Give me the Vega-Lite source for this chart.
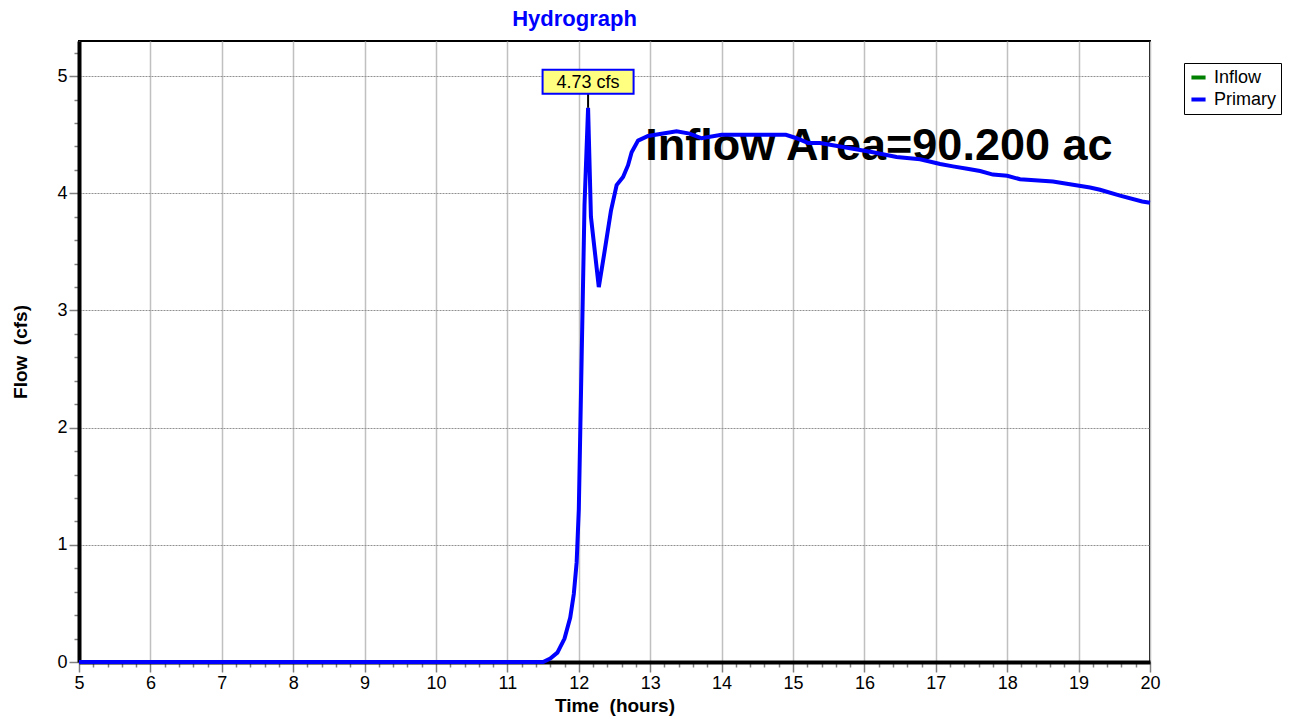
{
  "$schema": "https://vega.github.io/schema/vega-lite/v6.json",
  "width": 1071,
  "height": 621,
  "autosize": "none",
  "padding": {"left": 79, "top": 41, "right": 144, "bottom": 57},
  "background": "white",
  "config": {
    "view": {"stroke": "black", "strokeWidth": 2},
    "font": "Liberation Sans",
    "axis": {"labelFont": "Liberation Sans", "titleFont": "Liberation Sans"},
    "legend": {"labelFont": "Liberation Sans"}
  },
  "title": {
    "text": "Hydrograph",
    "color": "#0000ff",
    "fontSize": 22,
    "fontWeight": "bold",
    "font": "Liberation Sans",
    "anchor": "middle",
    "dx": -40,
    "offset": 10
  },
  "datasets": {
    "flow": [
      {"t": 5, "Q": 0, "series": "Primary"},
      {"t": 11.5, "Q": 0, "series": "Primary"},
      {"t": 11.6, "Q": 0.03, "series": "Primary"},
      {"t": 11.7, "Q": 0.08, "series": "Primary"},
      {"t": 11.8, "Q": 0.2, "series": "Primary"},
      {"t": 11.88, "Q": 0.38, "series": "Primary"},
      {"t": 11.93, "Q": 0.58, "series": "Primary"},
      {"t": 11.97, "Q": 0.85, "series": "Primary"},
      {"t": 12.0, "Q": 1.3, "series": "Primary"},
      {"t": 12.04, "Q": 2.6, "series": "Primary"},
      {"t": 12.08, "Q": 3.9, "series": "Primary"},
      {"t": 12.13, "Q": 4.73, "series": "Primary"},
      {"t": 12.17, "Q": 3.8, "series": "Primary"},
      {"t": 12.28, "Q": 3.2, "series": "Primary"},
      {"t": 12.36, "Q": 3.5, "series": "Primary"},
      {"t": 12.45, "Q": 3.85, "series": "Primary"},
      {"t": 12.53, "Q": 4.07, "series": "Primary"},
      {"t": 12.62, "Q": 4.14, "series": "Primary"},
      {"t": 12.69, "Q": 4.24, "series": "Primary"},
      {"t": 12.74, "Q": 4.35, "series": "Primary"},
      {"t": 12.83, "Q": 4.45, "series": "Primary"},
      {"t": 12.97, "Q": 4.49, "series": "Primary"},
      {"t": 13.18, "Q": 4.51, "series": "Primary"},
      {"t": 13.37, "Q": 4.53, "series": "Primary"},
      {"t": 13.55, "Q": 4.51, "series": "Primary"},
      {"t": 13.72, "Q": 4.47, "series": "Primary"},
      {"t": 14.0, "Q": 4.5, "series": "Primary"},
      {"t": 14.9, "Q": 4.5, "series": "Primary"},
      {"t": 15.05, "Q": 4.47, "series": "Primary"},
      {"t": 15.21, "Q": 4.43, "series": "Primary"},
      {"t": 15.38, "Q": 4.43, "series": "Primary"},
      {"t": 15.66, "Q": 4.4, "series": "Primary"},
      {"t": 16.12, "Q": 4.35, "series": "Primary"},
      {"t": 16.45, "Q": 4.31, "series": "Primary"},
      {"t": 16.78, "Q": 4.29, "series": "Primary"},
      {"t": 17.06, "Q": 4.25, "series": "Primary"},
      {"t": 17.24, "Q": 4.23, "series": "Primary"},
      {"t": 17.44, "Q": 4.21, "series": "Primary"},
      {"t": 17.62, "Q": 4.19, "series": "Primary"},
      {"t": 17.8, "Q": 4.16, "series": "Primary"},
      {"t": 18.0, "Q": 4.15, "series": "Primary"},
      {"t": 18.18, "Q": 4.12, "series": "Primary"},
      {"t": 18.64, "Q": 4.1, "series": "Primary"},
      {"t": 19.16, "Q": 4.05, "series": "Primary"},
      {"t": 19.3, "Q": 4.03, "series": "Primary"},
      {"t": 19.58, "Q": 3.98, "series": "Primary"},
      {"t": 19.89, "Q": 3.93, "series": "Primary"},
      {"t": 20, "Q": 3.92, "series": "Primary"}
    ],
    "peak": [{"t": 12.13, "Q": 4.73, "label": "4.73 cfs"}],
    "note": [{"t": 12.93, "Q": 4.283, "text": "Inflow Area=90.200 ac"}]
  },
  "encoding": {
    "x": {
      "field": "t",
      "type": "quantitative",
      "scale": {"domain": [5, 20], "nice": false, "zero": false},
      "axis": {
        "title": "Time \u00a0(hours)",
        "titleFontSize": 19,
        "titleFontWeight": "bold",
        "titleColor": "black",
        "titlePadding": 4,
        "tickCount": 1000,
        "values": [5,5.2,5.4,5.6,5.8,6,6.2,6.4,6.6,6.8,7,7.2,7.4,7.6,7.8,8,8.2,8.4,8.6,8.8,9,9.2,9.4,9.6,9.8,10,10.2,10.4,10.6,10.8,11,11.2,11.4,11.6,11.8,12,12.2,12.4,12.6,12.8,13,13.2,13.4,13.6,13.8,14,14.2,14.4,14.6,14.8,15,15.2,15.4,15.6,15.8,16,16.2,16.4,16.6,16.8,17,17.2,17.4,17.6,17.8,18,18.2,18.4,18.6,18.8,19,19.2,19.4,19.6,19.8,20],
        "labelExpr": "datum.value % 1 === 0 ? format(datum.value, 'd') : ''",
        "labelOverlap": false,
        "labelBound": false,
        "labelFlush": false,
        "labelFontSize": 18,
        "labelColor": "black",
        "labelPadding": 2,
        "tickColor": "#808080",
        "tickWidth": 1.5,
        "tickSize": {"condition": {"test": "datum.value % 1 === 0", "value": 10}, "value": 5},
        "domainColor": "black",
        "domainWidth": 4,
        "grid": true,
        "gridColor": "#c0c0c0",
        "gridWidth": 1.5,
        "gridOpacity": {"condition": {"test": "datum.value % 1 === 0", "value": 1}, "value": 0}
      }
    },
    "y": {
      "field": "Q",
      "type": "quantitative",
      "scale": {"domain": [0, 5.3], "nice": false},
      "axis": {
        "title": "Flow \u00a0(cfs)",
        "titleFontSize": 19,
        "titleFontWeight": "bold",
        "titleColor": "black",
        "titlePadding": 26,
        "tickCount": 1000,
        "values": [0,0.2,0.4,0.6,0.8,1,1.2,1.4,1.6,1.8,2,2.2,2.4,2.6,2.8,3,3.2,3.4,3.6,3.8,4,4.2,4.4,4.6,4.8,5,5.2],
        "labelExpr": "datum.value % 1 === 0 ? format(datum.value, 'd') : ''",
        "labelOverlap": false,
        "labelBound": false,
        "labelFlush": false,
        "labelFontSize": 18,
        "labelColor": "black",
        "labelPadding": 2,
        "tickColor": "#808080",
        "tickWidth": 1.5,
        "tickSize": {"condition": {"test": "datum.value % 1 === 0", "value": 10}, "value": 5},
        "domainColor": "black",
        "domainWidth": 4,
        "grid": true,
        "gridColor": "#909090",
        "gridWidth": 1,
        "gridDash": [2, 1],
        "gridOpacity": {"condition": {"test": "datum.value % 1 === 0", "value": 1}, "value": 0}
      }
    }
  },
  "layer": [
    {
      "data": {"name": "note"},
      "mark": {"type": "text", "align": "left", "baseline": "alphabetic", "fontSize": 45, "fontWeight": "bold", "color": "black", "font": "Liberation Sans"},
      "encoding": {"text": {"field": "text"}}
    },
    {
      "data": {"name": "flow"},
      "mark": {"type": "line", "strokeWidth": 4, "interpolate": "linear"},
      "encoding": {
        "color": {
          "field": "series",
          "type": "nominal",
          "scale": {"domain": ["Inflow", "Primary"], "range": ["#008000", "#0000ff"]},
          "legend": {
            "title": null,
            "orient": "none",
            "legendX": 1105,
            "legendY": 22,
            "symbolType": "stroke",
            "symbolStrokeWidth": 4,
            "symbolSize": 200,
            "labelFontSize": 18,
            "labelColor": "black",
            "labelOffset": 6,
            "fillColor": "white",
            "strokeColor": "black",
            "padding": 5,
            "rowPadding": 3
          }
        }
      }
    },
    {
      "data": {"name": "peak"},
      "mark": {"type": "rule", "color": "black", "strokeWidth": 2, "y2Offset": -14},
      "encoding": {"y2": {"field": "Q"}}
    },
    {
      "data": {"name": "peak"},
      "mark": {"type": "rect", "width": 91, "height": 24, "yOffset": -26, "fill": "#ffff80", "stroke": "#0000ff", "strokeWidth": 2}
    },
    {
      "data": {"name": "peak"},
      "mark": {"type": "text", "fontSize": 18, "color": "black", "yOffset": -25, "baseline": "middle", "align": "center", "font": "Liberation Sans"},
      "encoding": {"text": {"field": "label"}}
    }
  ]
}
